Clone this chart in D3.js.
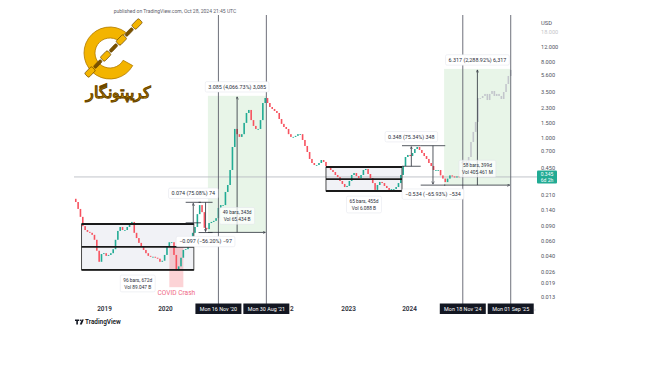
<!DOCTYPE html>
<html>
<head>
<meta charset="utf-8">
<script src="https://cdn.jsdelivr.net/npm/d3@7"></script>
<style>
  body { margin: 0; background: #fff; }
  svg { display: block; }
  text { font-family: Roboto, "Liberation Sans", sans-serif; }
</style>
</head>
<body>
<svg id="chart" width="650" height="365"></svg>
<script>
// weekly-ish ADA closes, one every 2 weeks from 16 Jul 2018
var startDate = "2018-07-16";
var stepDays = 14;
var firstOpen = 0.19;
var closes = [
  0.174, 0.144, 0.116, 0.090, 0.081, 0.077, 0.075, 0.071, 0.062, 0.046,
  0.034, 0.042, 0.043, 0.040, 0.041, 0.043, 0.048, 0.062, 0.079, 0.088,
  0.081, 0.081, 0.088, 0.096, 0.101, 0.075, 0.065, 0.057, 0.052, 0.047,
  0.043, 0.040, 0.039, 0.039, 0.038, 0.037, 0.034, 0.035, 0.041, 0.051,
  0.058, 0.058, 0.041, 0.027, 0.030, 0.038, 0.047, 0.048, 0.052, 0.062,
  0.075, 0.088, 0.125, 0.160, 0.132, 0.086, 0.083, 0.098, 0.101, 0.104,
  0.112, 0.148, 0.160, 0.160, 0.229, 0.277, 0.417, 0.782, 1.28, 1.11,
  1.03, 1.11, 1.51, 1.98, 2.15, 1.63, 1.39, 1.28, 1.28, 1.63,
  2.60, 2.98, 2.60, 2.33, 2.21, 2.09, 1.98, 1.68, 1.47, 1.35,
  1.28, 1.11, 1.03, 1.03, 1.06, 1.11, 1.11, 0.947, 0.804, 0.682,
  0.564, 0.505, 0.478, 0.478, 0.505, 0.548, 0.520, 0.465, 0.441, 0.417,
  0.395, 0.364, 0.344, 0.309, 0.285, 0.262, 0.270, 0.309, 0.364, 0.384,
  0.354, 0.335, 0.364, 0.417, 0.429, 0.374, 0.335, 0.292, 0.242, 0.277,
  0.301, 0.292, 0.270, 0.255, 0.242, 0.248, 0.248, 0.262, 0.292, 0.364,
  0.465, 0.595, 0.629, 0.611, 0.664, 0.741, 0.782, 0.721, 0.664, 0.611,
  0.564, 0.505, 0.465, 0.417, 0.417, 0.417, 0.360, 0.330, 0.300, 0.330,
  0.360, 0.350, 0.340, 0.350, 0.345
];

// projected (ghost) bars, Nov 2024 -> Sep 2025
var ghostStart = "2024-11-11";
var ghostOpen = 0.50;
var ghostCloses = [
  0.519, 0.533, 0.505, 0.595, 0.897, 1.18, 1.55, 2.98, 2.98, 3.15,
  3.33, 2.82, 3.33, 3.61, 3.15, 3.33, 3.15, 2.90, 3.51, 4.37,
  5.44, 6.41
];

var lastPrice = 0.345;
var lastLabel = ["0.345", "6d 2h"];

var yTickValues = [18, 12, 8, 5.6, 3.5, 2.3, 1.5, 1, 0.7, 0.45, 0.21, 0.14, 0.09, 0.06, 0.04, 0.026, 0.019, 0.013];
var yTickLabels = ["18.000", "12.000", "8.000", "5.600", "3.500", "2.300", "1.500", "1.000", "0.700",
                   "0.450", "0.210", "0.140", "0.090", "0.060", "0.040", "0.026", "0.019", "0.013"];
// 2021 and 2025 sit under the date tags; 2022 only peeks out past one
var yearTicks = ["2019-01-01", "2020-01-01", "2022-01-01", "2023-01-01", "2024-01-01"];

var markerDates = ["2020-11-16", "2021-08-30", "2024-11-18", "2025-09-01"];
var markerLabels = ["Mon 16 Nov '20", "Mon 30 Aug '21", "Mon 18 Nov '24", "Mon 01 Sep '25"];

// accumulation boxes
var boxStarts = ["2018-08-20", "2022-08-22"];
var boxEnds = ["2020-06-22", "2023-11-20"];
var boxTop = [0.0955, 0.453];
var boxMid = [0.051, 0.326];
var boxBottom = [0.0272, 0.235];
var boxInfo = [["96 bars, 672d", "Vol 89.047 B"], ["65 bars, 455d", "Vol 6.088 B"]];

// date & price ranges (green)
var rangeStarts = ["2020-09-14", "2024-07-29"];
var rangeEnds = ["2021-08-30", "2025-09-01"];
var rangeFrom = [0.0759, 0.276];
var rangeTo = [3.161, 6.593];
var rangeTitle = ["3.085 (4,066.73%) 3,085", "6.317 (2,288.92%) 6,317"];
var rangeInfo = [["49 bars, 343d", "Vol 65.434 B"], ["58 bars, 399d", "Vol 405.461 M"]];

// price range measurements
var measStarts = ["2020-05-04", "2020-07-20", "2023-11-20", "2024-03-11"];
var measEnds = ["2020-08-03", "2020-10-12", "2024-03-11", "2024-08-05"];
var measFrom = [0.0986, 0.1726, 0.462, 0.810];
var measTo = [0.1726, 0.0756, 0.810, 0.276];
var measText = ["0.074 (75.08%) 74", "\u22120.097 (\u221256.20%) \u221297", "0.348 (75.34%) 348", "\u22120.534 (\u221265.93%) \u2212534"];

var covidStart = "2020-01-27", covidEnd = "2020-04-20", covidHigh = 0.051, covidLow = 0.017;

var parse = d3.utcParse("%Y-%m-%d");
var up = "#22ab94", down = "#f7525f", ink = "#2a2e39";

var svg = d3.select("#chart");

var x = d3.scaleUtc().domain([parse("2019-01-01"), parse("2024-01-01")]).range([104, 409]);
var y = d3.scaleLog().domain([0.013, 12]).range([297, 47]);

var defs = svg.append("defs");
defs.append("clipPath").attr("id", "plot").append("rect")
  .attr("x", 74).attr("y", 15).attr("width", 463).attr("height", 288);
defs.append("clipPath").attr("id", "timeclip").append("rect")
  .attr("x", 0).attr("y", 290).attr("width", 650).attr("height", 30);
defs.append("marker").attr("id", "arr").attr("viewBox", "0 0 6 6")
  .attr("refX", 5).attr("refY", 3).attr("markerWidth", 4).attr("markerHeight", 4)
  .attr("orient", "auto")
  .append("path").attr("d", "M0,0.5L5,3L0,5.5").attr("fill", "none").attr("stroke", ink).attr("stroke-width", 1);

var g = svg.append("g").attr("clip-path", "url(#plot)");

// shaded areas under the bars
boxStarts.forEach(function(s, i) {
  g.append("rect")
    .attr("x", x(parse(s))).attr("width", x(parse(boxEnds[i])) - x(parse(s)))
    .attr("y", y(boxTop[i])).attr("height", y(boxBottom[i]) - y(boxTop[i]))
    .attr("fill", "#dfe3ea").attr("opacity", 0.45);
});
rangeStarts.forEach(function(s, i) {
  g.append("rect")
    .attr("x", x(parse(s))).attr("width", x(parse(rangeEnds[i])) - x(parse(s)))
    .attr("y", y(rangeTo[i])).attr("height", y(rangeFrom[i]) - y(rangeTo[i]))
    .attr("fill", "#4caf50").attr("opacity", 0.13);
});
g.append("rect")
  .attr("x", x(parse(covidStart))).attr("width", x(parse(covidEnd)) - x(parse(covidStart)))
  .attr("y", y(covidHigh)).attr("height", y(covidLow) - y(covidHigh))
  .attr("fill", "#f23645").attr("opacity", 0.22);

// last price line
g.append("line").attr("x1", 74).attr("x2", 537)
  .attr("y1", y(lastPrice)).attr("y2", y(lastPrice))
  .attr("stroke", "#b2b5be").attr("stroke-width", 0.8);

// vertical date markers
markerDates.forEach(function(d) {
  svg.append("line").attr("x1", x(parse(d))).attr("x2", x(parse(d)))
    .attr("y1", 15).attr("y2", 304).attr("stroke", "#5d606b").attr("stroke-width", 0.9);
});

// candles
var t0 = parse(startDate);
var bars = closes.map(function(c, i) {
  return { date: d3.utcDay.offset(t0, i * stepDays), open: i ? closes[i - 1] : firstOpen, close: c };
});
g.selectAll("rect.bar").data(bars).enter().append("rect").attr("class", "bar")
  .attr("x", function(d) { return x(d.date) - 0.8; })
  .attr("width", 1.6)
  .attr("y", function(d) { return y(Math.max(d.open, d.close)); })
  .attr("height", function(d) { return Math.max(0.8, Math.abs(y(d.open) - y(d.close))); })
  .attr("fill", function(d) { return d.close >= d.open ? up : down; });

var gt0 = parse(ghostStart);
var ghosts = ghostCloses.map(function(c, i) {
  return { date: d3.utcDay.offset(gt0, i * stepDays), open: i ? ghostCloses[i - 1] : ghostOpen, close: c };
});
g.selectAll("rect.ghost").data(ghosts).enter().append("rect").attr("class", "ghost")
  .attr("x", function(d) { return x(d.date) - 0.8; })
  .attr("width", 1.6)
  .attr("y", function(d) { return y(Math.max(d.open, d.close)); })
  .attr("height", function(d) { return Math.max(0.8, Math.abs(y(d.open) - y(d.close))); })
  .attr("fill", "#c3c6cc");

// box outlines
boxStarts.forEach(function(s, i) {
  var x0 = x(parse(s)), x1 = x(parse(boxEnds[i]));
  svg.append("rect").attr("x", x0).attr("y", y(boxTop[i]))
    .attr("width", x1 - x0).attr("height", y(boxBottom[i]) - y(boxTop[i]))
    .attr("fill", "none").attr("stroke", "#222").attr("stroke-width", 0.8);
  [boxTop[i], boxMid[i], boxBottom[i]].forEach(function(p) {
    svg.append("line").attr("x1", x0).attr("x2", x1).attr("y1", y(p)).attr("y2", y(p))
      .attr("stroke", "#1a1a1a").attr("stroke-width", 1.8);
  });
});

function textBox(cx, cy, lines, size, bg) {
  var gg = svg.append("g");
  var r = gg.append("rect");
  var w = 0;
  lines.forEach(function(s, k) {
    var t = gg.append("text").attr("x", cx).attr("y", cy + k * (size + 2.2))
      .attr("text-anchor", "middle").attr("dy", "0.35em")
      .attr("font-size", size).attr("fill", "#2a2e39").text(s);
    w = Math.max(w, t.node().getComputedTextLength());
  });
  r.attr("x", cx - w / 2 - 3).attr("y", cy - size / 2 - 2.5)
    .attr("width", w + 6).attr("height", lines.length * (size + 2.2) + 2.8)
    .attr("rx", 1.5).attr("fill", bg).attr("stroke", "#e0e3eb").attr("stroke-width", 0.5);
  return gg;
}

// date & price range arrows + labels
rangeStarts.forEach(function(s, i) {
  var x0 = x(parse(s)), x1 = x(parse(rangeEnds[i])), xm = (x0 + x1) / 2;
  svg.append("line").attr("x1", xm).attr("x2", xm)
    .attr("y1", y(rangeFrom[i])).attr("y2", y(rangeTo[i]) + 1)
    .attr("stroke", ink).attr("stroke-width", 0.8).attr("marker-end", "url(#arr)");
  svg.append("line").attr("x1", x0).attr("x2", x1 - 1)
    .attr("y1", y(rangeFrom[i])).attr("y2", y(rangeFrom[i]))
    .attr("stroke", ink).attr("stroke-width", 0.8).attr("marker-end", "url(#arr)");
  textBox(xm, y(rangeTo[i]) - 9, [rangeTitle[i]], 5.4, "#fff");
  textBox(xm, y(rangeFrom[i]) - 20, rangeInfo[i], 4.8, "rgba(255,255,255,0.75)");
});

// price range measurements
measStarts.forEach(function(s, i) {
  var x0 = x(parse(s)), x1 = x(parse(measEnds[i])), xm = (x0 + x1) / 2;
  [measFrom[i], measTo[i]].forEach(function(p) {
    svg.append("line").attr("x1", x0).attr("x2", x1).attr("y1", y(p)).attr("y2", y(p))
      .attr("stroke", ink).attr("stroke-width", 0.8);
  });
  var dir = measTo[i] > measFrom[i] ? 1 : -1;
  svg.append("line").attr("x1", xm).attr("x2", xm)
    .attr("y1", y(measFrom[i])).attr("y2", y(measTo[i]) + dir)
    .attr("stroke", ink).attr("stroke-width", 0.8).attr("marker-end", "url(#arr)");
  var ly = dir > 0 ? y(measTo[i]) - 9 : y(measTo[i]) + 9;
  textBox(xm, ly, [measText[i]], 5.4, "#fff");
});

// box info labels
boxStarts.forEach(function(s, i) {
  var xm = (x(parse(s)) + x(parse(boxEnds[i]))) / 2;
  textBox(xm, y(boxBottom[i]) + 10, boxInfo[i], 4.8, "rgba(255,255,255,0.85)");
});

svg.append("text").attr("x", (x(parse(covidStart)) + x(parse(covidEnd))) / 2).attr("y", y(covidLow) + 8)
  .attr("text-anchor", "middle").attr("font-size", 6.6).attr("fill", "#ef6a86").text("COVID Crash");

// right price scale
var yAxis = d3.axisRight(y).tickValues(yTickValues)
  .tickFormat(function(d, i) { return yTickLabels[i]; })
  .tickSize(0).tickPadding(0);
var ya = svg.append("g").attr("transform", "translate(541,0)").call(yAxis);
ya.select(".domain").remove();
ya.selectAll("text").attr("font-size", 5.6).attr("fill", "#50535e").attr("font-family", "Roboto, sans-serif");
ya.selectAll(".tick").filter(function(d) { return d === 18; }).attr("opacity", 0.35);
svg.append("text").attr("x", 541).attr("y", 25).attr("font-size", 5.8).attr("fill", "#50535e").text("USD");

// last price tag
var ty = y(lastPrice);
svg.append("rect").attr("x", 537).attr("y", ty - 6.5).attr("width", 20).attr("height", 13)
  .attr("rx", 1).attr("fill", up);
lastLabel.forEach(function(s, k) {
  svg.append("text").attr("x", 547).attr("y", ty - 2.5 + k * 6).attr("dy", "0.35em")
    .attr("text-anchor", "middle").attr("font-size", 5).attr("fill", "#fff").text(s);
});

// time scale; year labels tucked behind the date tags are cut at the tag edge
var xAxis = d3.axisBottom(x).tickValues(yearTicks.map(parse))
  .tickFormat(d3.utcFormat("%Y")).tickSize(0).tickPadding(0);
var xa = svg.append("g").attr("transform", "translate(0,306)").call(xAxis);
xa.select(".domain").remove();
xa.selectAll("text").attr("font-size", 6.4).attr("font-weight", 600).attr("fill", "#2a2e39")
  .attr("font-family", "Roboto, sans-serif");
xa.selectAll(".tick").filter(function(d) { return d.getUTCFullYear() === 2022; })
  .select("text").attr("text-anchor", "start").attr("x", 289.5 - x(parse("2022-01-01")))
  .text("2");

markerDates.forEach(function(d, i) {
  var cx = x(parse(d));
  svg.append("rect").attr("x", cx - 23).attr("y", 303.5).attr("width", 46).attr("height", 10.5)
    .attr("fill", "#131722");
  svg.append("text").attr("x", cx).attr("y", 309).attr("dy", "0.35em").attr("text-anchor", "middle")
    .attr("font-size", 5.4).attr("fill", "#fff").text(markerLabels[i]);
});
svg.append("text").attr("x", 534).attr("y", 309).attr("dy", "0.35em")
  .attr("font-size", 5.4).attr("fill", "#b2b5be").text("\u203A");

// header + TradingView mark
svg.append("text").attr("x", 175).attr("y", 13).attr("text-anchor", "middle")
  .attr("font-size", 5).attr("fill", "#5d606b")
  .text("published on TradingView.com, Oct 28, 2024 21:45 UTC");
svg.append("path").attr("d", "M75,319.5h4.2v1.6h-1.3v3.4h-1.6v-3.4h-1.3z M81.8,319.5h2l-2,5h-2z")
  .attr("fill", "#131722");
svg.append("circle").attr("cx", 80.6).attr("cy", 320.3).attr("r", 0.8).attr("fill", "#131722");
svg.append("text").attr("x", 85).attr("y", 324.3).attr("font-size", 6.4).attr("font-weight", 600)
  .attr("fill", "#131722").text("TradingView");

// logo: gold C with a chain
var logo = svg.append("g");
var arcC = d3.arc().innerRadius(15).outerRadius(26)
  .startAngle(119 * Math.PI / 180).endAngle(397 * Math.PI / 180);
logo.append("path").attr("d", arcC()).attr("transform", "translate(110,53)")
  .attr("fill", "#f3b400").attr("stroke", "#b07a00").attr("stroke-width", 0.8);
var ax = 137, ay = 24, bx = 90, by = 72, n = 7;
for (var k = 0; k < n; k++) {
  var t = k / (n - 1);
  var cx = ax + (bx - ax) * t, cy = ay + (by - ay) * t;
  var wide = k % 2 === 0;
  logo.append("rect")
    .attr("x", -5).attr("y", wide ? -3 : -1.6).attr("width", 10).attr("height", wide ? 6 : 3.2)
    .attr("rx", 1.5)
    .attr("transform", "translate(" + cx + "," + cy + ") rotate(-46)")
    .attr("fill", wide ? "#f3b400" : "#7a5200")
    .attr("stroke", "#6b4700").attr("stroke-width", 0.7);
}
logo.append("text").attr("x", 118).attr("y", 98).attr("text-anchor", "middle")
  .attr("font-family", "'DejaVu Sans', sans-serif").attr("font-size", 16).attr("font-weight", "bold")
  .attr("letter-spacing", 0.5)
  .attr("fill", "#f0ad00").attr("stroke", "#6b4700").attr("stroke-width", 0.5)
  .text("\u06A9\u0631\u06CC\u067E\u062A\u0648\u0646\u06AF\u0627\u0631");
</script>
</body>
</html>
